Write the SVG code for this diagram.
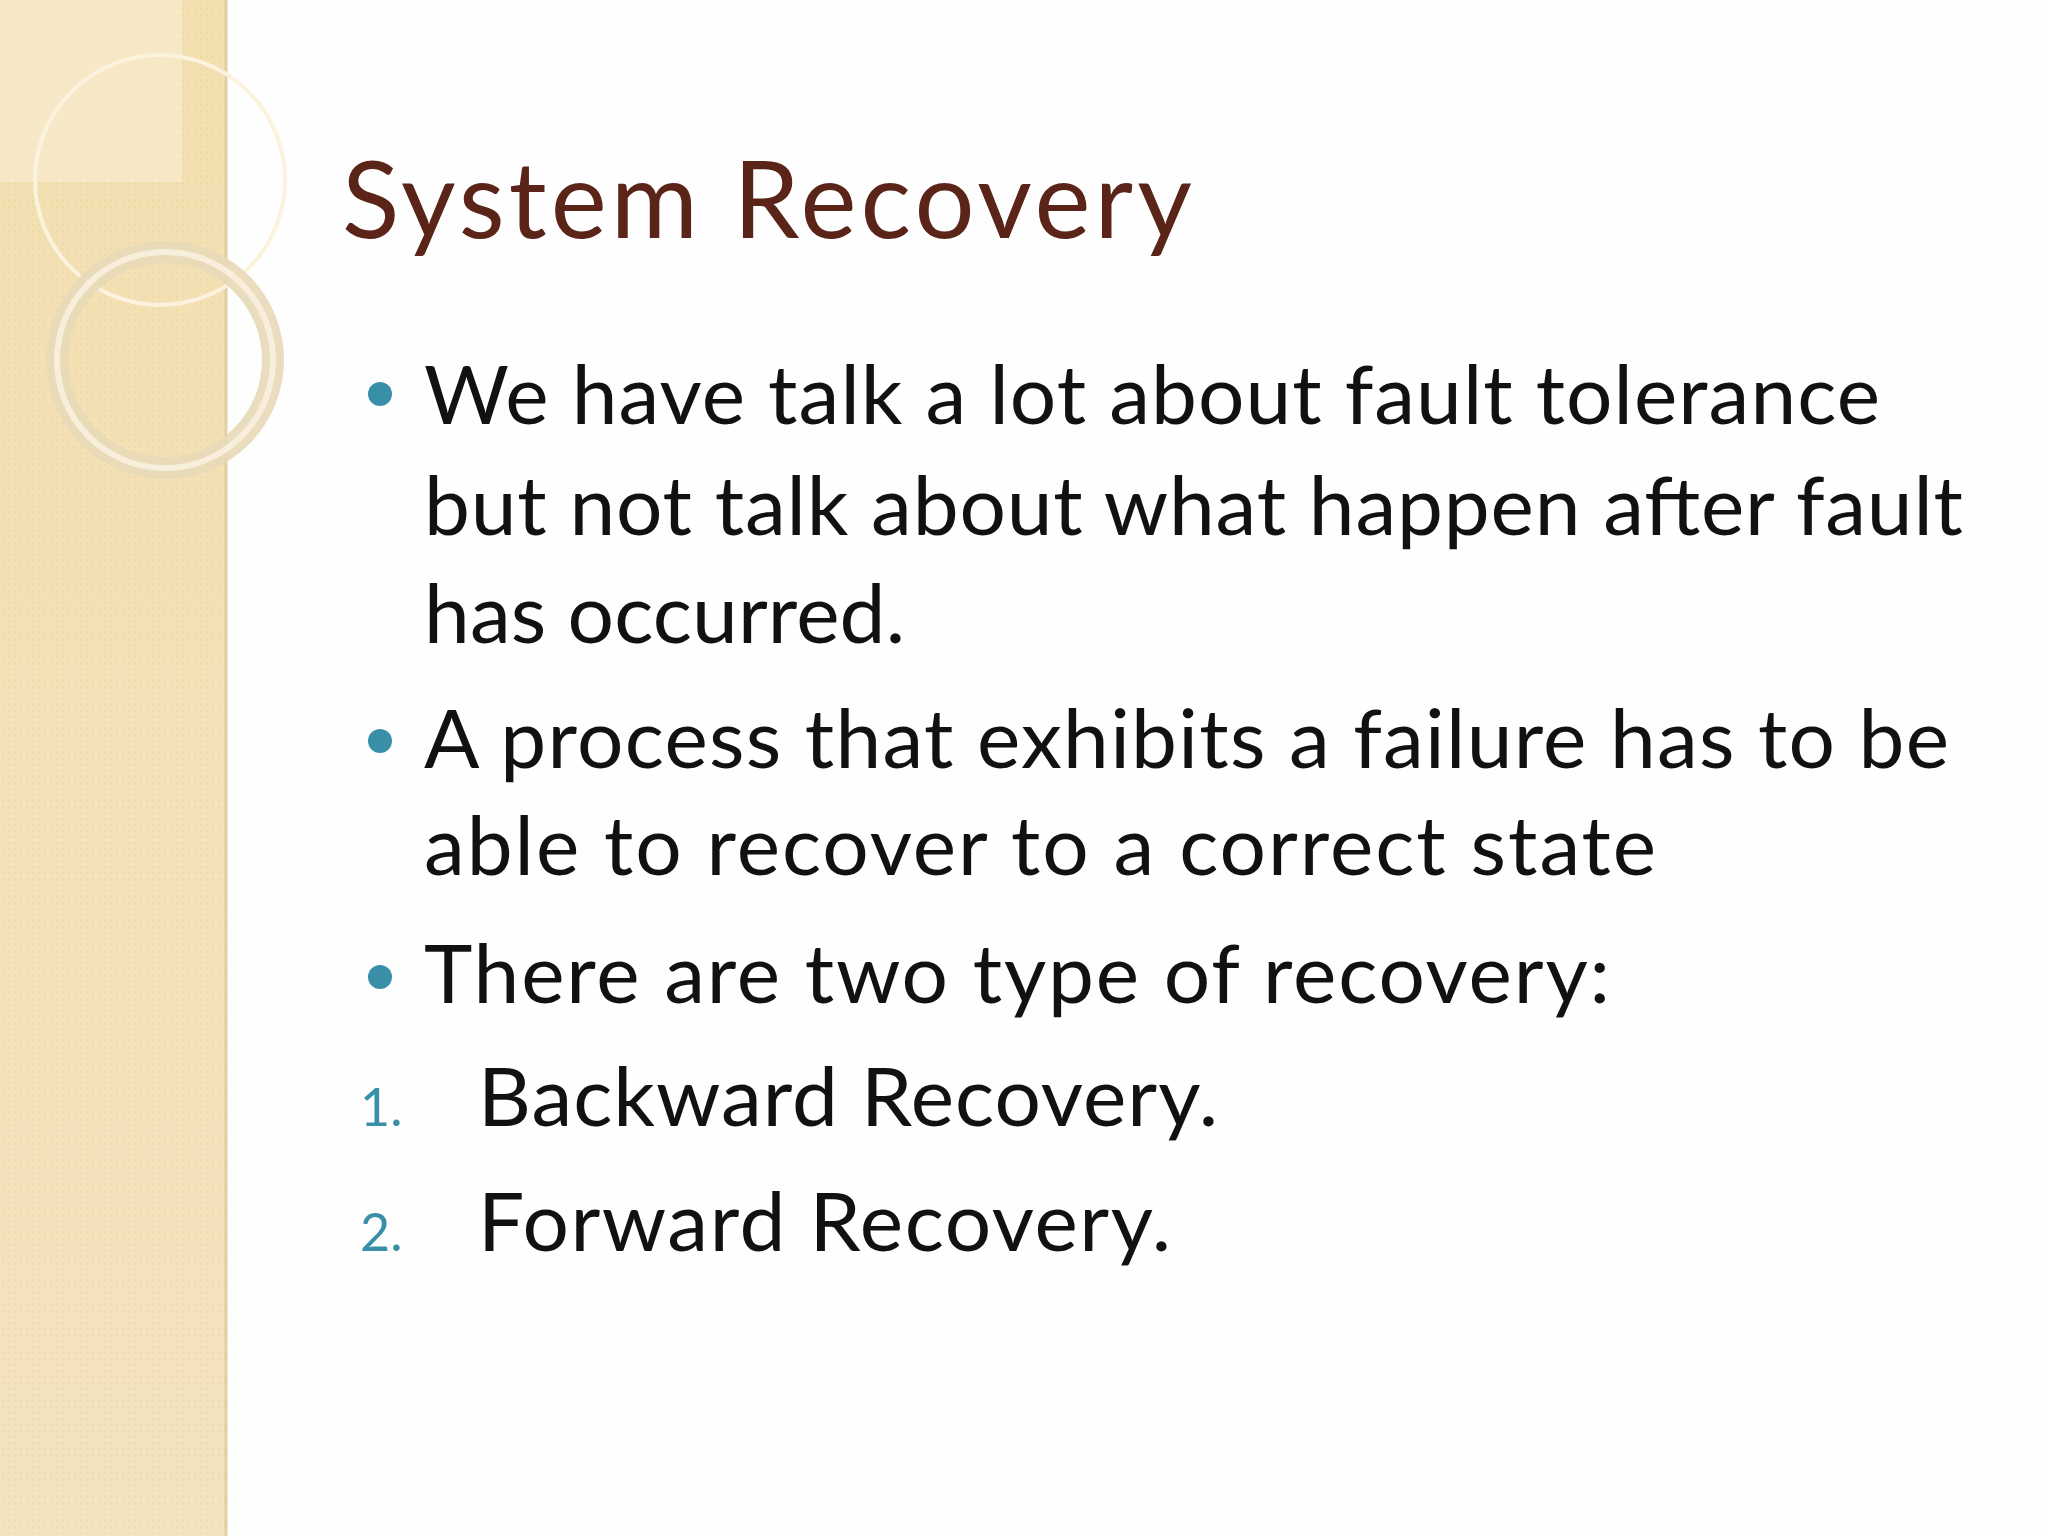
<svg xmlns="http://www.w3.org/2000/svg" width="2048" height="1536" viewBox="0 0 2048 1536">
<style>
.t{font-family:Lato,"Open Sans",sans-serif;font-size:82px;fill:#111}
.n{font-family:Lato,"Open Sans",sans-serif;font-size:52px;fill:#3a8fa8}
.b{fill:#3a8fa8}
</style>
<defs>
<linearGradient id="g" x1="0" y1="0" x2="0" y2="1"><stop offset="0" stop-color="#f3e0b0"/><stop offset="1" stop-color="#f4e3c0"/></linearGradient>
<pattern id="p" width="6" height="6" patternUnits="userSpaceOnUse"><rect width="6" height="6" fill="none"/><circle cx="3" cy="3" r="1" fill="#e6cf9a" opacity="0.5"/></pattern>
</defs>
<rect width="2048" height="1536" fill="#fefefe"/>
<g id="strip">
<rect width="226" height="1536" fill="url(#g)"/>
<rect width="226" height="1536" fill="url(#p)"/>
<rect width="182" height="182" fill="#f8ecd0" opacity="0.7"/>
<line x1="226" y1="0" x2="226" y2="1536" stroke="#e2cfa3" stroke-width="3"/>
<circle cx="160" cy="180" r="125" fill="none" stroke="#fbf3de" stroke-width="4"/>
<circle cx="165" cy="360" r="108" fill="none" stroke="#e8d9b8" stroke-width="22" opacity="0.9"/>
<circle cx="165" cy="360" r="108" fill="none" stroke="#f7efdb" stroke-width="6"/>
</g>
<g id="title"><text x="342" y="238" font-family="Lato,'Open Sans',sans-serif" font-size="106" fill="#5a2418" textLength="850">System Recovery</text></g>
<g id="bullets">
<circle class="b" cx="380" cy="394" r="12"/>
<circle class="b" cx="380" cy="741" r="12"/>
<circle class="b" cx="380" cy="977" r="12"/>
<text class="t" x="424" y="424" textLength="1456">We have talk a lot about fault tolerance</text>
<text class="t" x="424" y="535" textLength="1539">but not talk about what happen after fault</text>
<text class="t" x="424" y="643" textLength="481">has occurred.</text>
<text class="t" x="424" y="768" textLength="1525">A process that exhibits a failure has to be</text>
<text class="t" x="424" y="875" textLength="1232">able to recover to a correct state</text>
<text class="t" x="424" y="1003" textLength="1186">There are two type of recovery:</text>
<text class="n" x="360" y="1126">1.</text>
<text class="n" x="360" y="1251">2.</text>
<text class="t" x="478" y="1126" textLength="740">Backward Recovery.</text>
<text class="t" x="478" y="1251" textLength="693">Forward Recovery.</text>
</g>
</svg>
